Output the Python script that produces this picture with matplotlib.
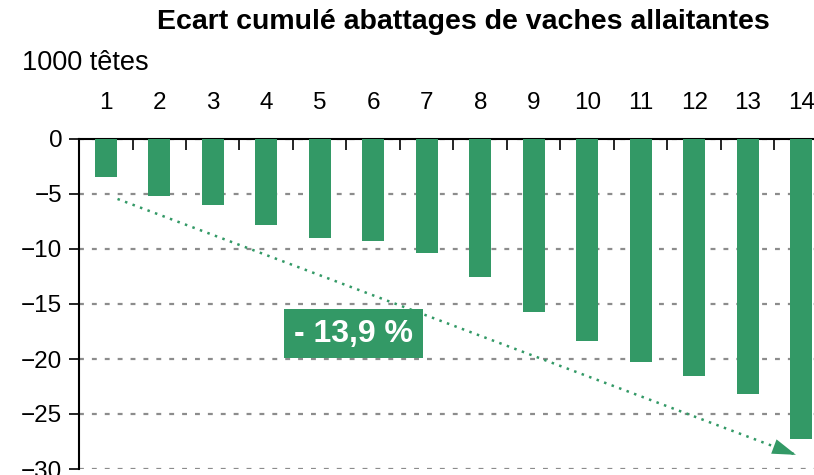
import numpy as np
import matplotlib.pyplot as plt

# Ecart cumulé abattages de vaches allaitantes (1000 têtes)
semaines = [str(i) for i in range(1, 15)]
ecart = [-3.5, -5.2, -6.0, -7.8, -9.0, -9.3, -10.4, -12.5, -15.7, -18.4,
         -20.3, -21.5, -23.2, -27.3]
tendance_x = [0.22, 12.95]
tendance_y = [-5.45, -28.8]
label_tendance = "- 13,9 %"

vert = '#339966'
plt.rcParams['font.family'] = ['Liberation Sans', 'DejaVu Sans']

fig = plt.figure(figsize=(8.14, 4.75), dpi=100)
ax = fig.add_axes([79 / 814, 6 / 475, 749 / 814, 330 / 475])

x = np.arange(len(semaines))
ax.bar(x, ecart, width=0.41, color=vert, zorder=3)

ax.set_xlim(-0.5, len(semaines) - 0.5)
ax.set_ylim(-30, 0)
ax.set_yticks(range(-30, 1, 5))
ax.tick_params(axis='y', labelsize=17.5, length=7, width=1.2, pad=5, direction='out')

# étiquettes en haut, traits de séparation vers le bas
ax.xaxis.tick_top()
ax.set_xticks(x)
ax.set_xticklabels(semaines)
ax.tick_params(axis='x', which='major', labelsize=17.5, length=0, pad=18)
ax.set_xticks(x[:-1] + 0.5, minor=True)
ax.tick_params(axis='x', which='minor', length=8, width=1.2, direction='in', top=True)

for s in ['bottom', 'right']:
    ax.spines[s].set_visible(False)
for s in ['top', 'left']:
    ax.spines[s].set_linewidth(1.5)

ax.yaxis.grid(True, linestyle=(0, (2.2, 3.6)), color='#8c8c8c', linewidth=1.6, zorder=0)
ax.set_axisbelow(True)

# tendance
ax.plot(tendance_x, tendance_y, linestyle=(0, (1, 2.2)), color=vert, linewidth=1.8, zorder=4)
ax.annotate('', xy=(tendance_x[1], tendance_y[1]),
            xytext=(tendance_x[1] - 0.45, tendance_y[1] + 0.82),
            arrowprops=dict(arrowstyle='-|>,head_length=1.7,head_width=0.55',
                            color=vert, lw=0), zorder=5)
ax.text(4.63, -17.7, label_tendance, color='white', fontsize=23, fontweight='bold',
        ha='center', va='center', zorder=6,
        bbox=dict(boxstyle='square,pad=0.3', facecolor=vert, edgecolor='none'))

fig.text(463 / 814, 1 - 22 / 475, 'Ecart cumulé abattages de vaches allaitantes',
         ha='center', va='center', fontsize=20.5, fontweight='bold')
fig.text(22 / 814, 1 - 63 / 475, '1000 têtes', ha='left', va='center', fontsize=19.5)

fig.savefig('out.png', dpi=100)
